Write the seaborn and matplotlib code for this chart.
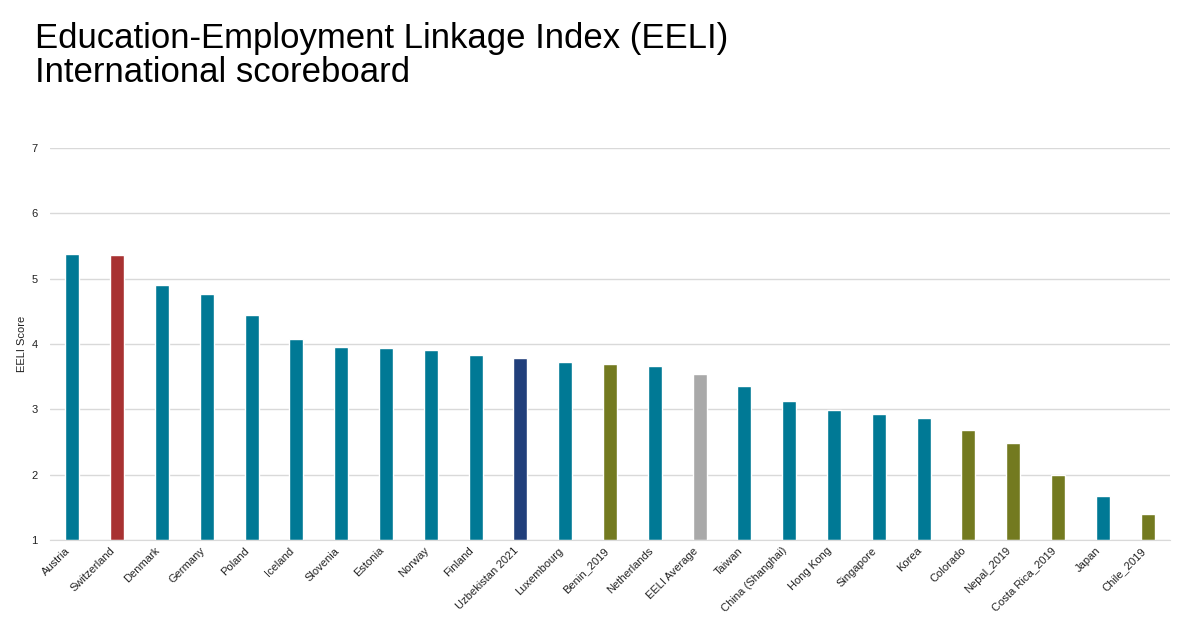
import pandas as pd
import numpy as np
import matplotlib
matplotlib.use("Agg")
import matplotlib.pyplot as plt
import seaborn as sns

# Data
countries = ["Austria", "Switzerland", "Denmark", "Germany", "Poland", "Iceland",
             "Slovenia", "Estonia", "Norway", "Finland", "Uzbekistan 2021",
             "Luxembourg", "Benin_2019", "Netherlands", "EELI Average", "Taiwan",
             "China (Shanghai)", "Hong Kong", "Singapore", "Korea", "Colorado",
             "Nepal_2019", "Costa Rica_2019", "Japan", "Chile_2019"]
scores = [5.38, 5.36, 4.90, 4.77, 4.45, 4.08, 3.96, 3.94, 3.91, 3.83, 3.79,
          3.73, 3.70, 3.66, 3.54, 3.36, 3.13, 2.99, 2.93, 2.87, 2.68, 2.49,
          2.00, 1.67, 1.40]
groups = ["oecd", "swiss", "oecd", "oecd", "oecd", "oecd", "oecd", "oecd",
          "oecd", "oecd", "uzb", "oecd", "other", "oecd", "avg", "oecd",
          "oecd", "oecd", "oecd", "oecd", "other", "other", "other", "oecd",
          "other"]

group_colors = {"oecd": "#007995", "swiss": "#A83232", "uzb": "#213F7B",
                "other": "#737A20", "avg": "#A9A9A9"}

df = pd.DataFrame({"country": countries, "score": scores, "group": groups})

sns.set_style("white")
plt.rcParams['font.family'] = ['Liberation Sans', 'DejaVu Sans']

fig = plt.figure(figsize=(12, 6.42), dpi=100)
ax = fig.add_axes([0.0417, 0.159, 0.9333, 0.6105])

# bars start at 1 (bottom of the axis)
df["height"] = df["score"] - 1
sns.barplot(data=df, x="country", y="height", hue="group", palette=group_colors,
            dodge=False, width=0.31, legend=False, ax=ax, bottom=1, saturation=1)

ax.set_ylim(1, 7)
ax.set_xlim(-0.5, len(countries) - 0.5)
ax.set_yticks(range(1, 8))
ax.yaxis.grid(True, color="#D9D9D9", linewidth=1)
ax.set_axisbelow(True)
for s in ["top", "right", "left"]:
    ax.spines[s].set_visible(False)
ax.spines["bottom"].set_color("#D9D9D9")
ax.tick_params(axis="both", length=0, labelsize=8, colors="#222222")
ax.tick_params(axis="y", pad=9)
ax.tick_params(axis="x", pad=4)
ax.set_xticks(range(len(countries)))
ax.set_xticklabels(countries, rotation=45, ha="right")
ax.set_xlabel("")
ax.set_ylabel("EELI Score", fontsize=8, color="#222222", labelpad=3)

fig.text(0.029, 0.966, "Education-Employment Linkage Index (EELI)\nInternational scoreboard",
         fontsize=25, va="top", ha="left", color="black", linespacing=1.03)

fig.savefig("out.png", dpi=100)
